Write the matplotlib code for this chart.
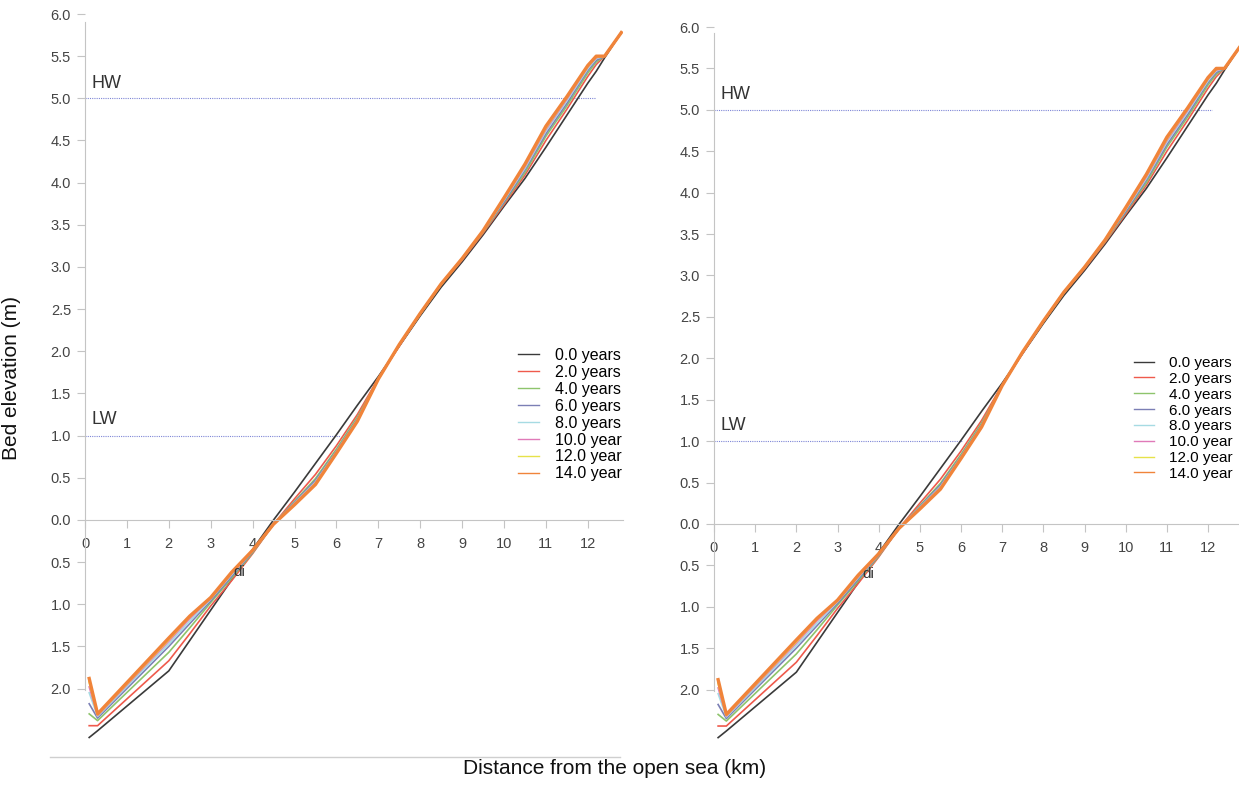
import matplotlib
matplotlib.use("Agg")
import matplotlib.pyplot as plt
from matplotlib.lines import Line2D

plt.rcParams['font.family'] = ['Liberation Sans', 'DejaVu Sans']

# ---------------- data ----------------
distance_km = [0.1, 0.3, 2.0, 2.5, 3.0, 3.5, 4.0, 4.5, 5.0, 5.5, 6.0, 6.5, 7.0,
               7.5, 8.0, 8.5, 9.0, 9.5, 10.0, 10.5, 11.0, 11.5, 12.0, 12.2, 12.4, 12.8]

labels = ["0.0 years", "2.0 years", "4.0 years", "6.0 years", "8.0 years",
          "10.0 year", "12.0 year", "14.0 year"]

bed_0 = [-2.58, -2.50, -1.79, -1.43, -1.07, -0.71, -0.35, 0.00, 0.33, 0.67, 1.01, 1.36, 1.70,
         2.06, 2.42, 2.76, 3.06, 3.38, 3.72, 4.05, 4.42, 4.80, 5.18, 5.32, 5.48, 5.78]
bed_2 = [-2.44, -2.44, -1.67, -1.35, -1.02, -0.72, -0.40, -0.05, 0.25, 0.54, 0.88, 1.25, 1.68,
         2.06, 2.44, 2.79, 3.08, 3.40, 3.74, 4.09, 4.50, 4.87, 5.26, 5.40, 5.50, 5.78]
bed_4 = [-2.30, -2.38, -1.57, -1.28, -0.98, -0.69, -0.39, -0.05, 0.22, 0.49, 0.84, 1.22, 1.67,
         2.07, 2.44, 2.79, 3.09, 3.41, 3.76, 4.12, 4.55, 4.91, 5.30, 5.43, 5.50, 5.78]
bed_6 = [-2.18, -2.35, -1.50, -1.23, -0.96, -0.67, -0.38, -0.05, 0.21, 0.47, 0.82, 1.20, 1.67,
         2.07, 2.45, 2.80, 3.09, 3.42, 3.77, 4.15, 4.58, 4.94, 5.33, 5.45, 5.50, 5.78]
bed_8 = [-2.05, -2.33, -1.47, -1.20, -0.94, -0.65, -0.37, -0.05, 0.20, 0.45, 0.81, 1.19, 1.67,
         2.08, 2.45, 2.80, 3.10, 3.42, 3.79, 4.17, 4.61, 4.97, 5.35, 5.47, 5.50, 5.78]
bed_10 = [-1.98, -2.32, -1.44, -1.17, -0.93, -0.64, -0.37, -0.05, 0.19, 0.44, 0.80, 1.18, 1.67,
          2.08, 2.45, 2.80, 3.10, 3.43, 3.80, 4.19, 4.63, 4.99, 5.37, 5.48, 5.50, 5.78]
bed_12 = [-1.92, -2.31, -1.42, -1.15, -0.92, -0.63, -0.36, -0.05, 0.18, 0.43, 0.79, 1.17, 1.67,
          2.08, 2.45, 2.80, 3.10, 3.43, 3.81, 4.21, 4.65, 5.01, 5.38, 5.49, 5.50, 5.78]
bed_14 = [-1.88, -2.30, -1.40, -1.14, -0.92, -0.62, -0.36, -0.05, 0.18, 0.42, 0.79, 1.17, 1.67,
          2.08, 2.45, 2.80, 3.10, 3.43, 3.82, 4.22, 4.67, 5.02, 5.39, 5.50, 5.50, 5.78]

series = [bed_0, bed_2, bed_4, bed_6, bed_8, bed_10, bed_12, bed_14]
colors = ["#3a3a3a", "#ef5a4c", "#8ec46c", "#7b7fb5", "#a6dbe3", "#e07ab8", "#e6e24a", "#f0843a"]
widths = [1.2, 1.2, 1.2, 1.2, 1.2, 1.2, 1.4, 2.4]

yticks = [-2.0, -1.5, -1.0, -0.5, 0.0, 0.5, 1.0, 1.5, 2.0, 2.5, 3.0, 3.5, 4.0, 4.5, 5.0, 5.5, 6.0]
ytick_labels = ["2.0", "1.5", "1.0", "0.5", "0.0", "0.5", "1.0", "1.5", "2.0", "2.5",
                "3.0", "3.5", "4.0", "4.5", "5.0", "5.5", "6.0"]
xticks = list(range(0, 13))
HW, LW = 5.0, 1.0

W, H = 1239, 787
fig = plt.figure(figsize=(W / 100, H / 100), dpi=100)

def px_axes(x0, x1, ytop, ybot):
    return [x0 / W, 1 - ybot / H, (x1 - x0) / W, (ybot - ytop) / H]

panels = [
    dict(rect=px_axes(85, 85 + 12.85 * 41.9, 14 - 0.05 * 84.3, 520 + 2.7 * 84.3),
         spine_top=5.9, hw_end=12.17, lw_end=6.08, hw_y=5.12, lw_y=1.14,
         leg=(518 / W, 1 - 348 / H), legsize=11.5, di=(3.55, -0.62)),
    dict(rect=px_axes(714, 714 + 12.85 * 41.17, 27 - 0.05 * 82.8, 524 + 2.7 * 82.8),
         spine_top=5.93, hw_end=12.1, lw_end=6.02, hw_y=5.13, lw_y=1.135,
         leg=(1134 / W, 1 - 356 / H), legsize=11, di=(3.6, -0.6)),
]

axis_gray = "#c4c4c4"
text_gray = "#444444"

for p in panels:
    ax = fig.add_axes(p["rect"])
    ax.set_xlim(0, 12.85)
    ax.set_ylim(-2.7, 6.05)
    ax.patch.set_alpha(0)
    for s in ["top", "right"]:
        ax.spines[s].set_visible(False)
    ax.spines["bottom"].set_position(("data", 0))
    ax.spines["bottom"].set_color(axis_gray)
    ax.spines["left"].set_color(axis_gray)
    ax.spines["left"].set_bounds(-2.02, p["spine_top"])

    ax.set_yticks(yticks)
    ax.set_yticklabels(ytick_labels)
    ax.set_xticks(xticks)
    ax.tick_params(axis="both", colors=axis_gray, labelcolor=text_gray,
                   labelsize=10.5, length=6, width=0.8)
    ax.tick_params(axis="x", pad=6)
    ax.tick_params(axis="y", pad=4)

    ax.plot([0, p["hw_end"]], [HW, HW], linestyle=(0, (1, 1)), color="#7f86d6", lw=0.8)
    ax.plot([0, p["lw_end"]], [LW, LW], linestyle=(0, (1, 1)), color="#7f86d6", lw=0.8)
    ax.text(0.16, p["hw_y"], "HW", fontsize=13, color="#333333", va="baseline")
    ax.text(0.16, p["lw_y"], "LW", fontsize=13, color="#333333", va="baseline")

    handles = []
    for ys, c, w, lab in zip(series, colors, widths, labels):
        ax.plot(distance_km, ys, color=c, lw=w, solid_joinstyle="round")
        handles.append(Line2D([], [], color=c, lw=1.0, label=lab))

    ax.text(p["di"][0], p["di"][1], "di", fontsize=11, color="#333333", va="center")

    fig.legend(handles=handles, loc="upper left", bbox_to_anchor=p["leg"],
               bbox_transform=fig.transFigure, frameon=False, fontsize=p["legsize"],
               handlelength=1.3, handletextpad=1.0, labelspacing=0.12,
               borderpad=0, borderaxespad=0)

fig.text(12 / W, 1 - 378 / H, "Bed elevation (m)", rotation=90, ha="center",
         va="center", fontsize=15, color="#111111")
fig.text(615 / W, 1 - 768 / H, "Distance from the open sea (km)", ha="center",
         va="center", fontsize=15, color="#111111")
fig.add_artist(Line2D([50 / W, 620 / W], [1 - 757 / H, 1 - 757 / H],
                      color="#cfcfcf", lw=1.0, transform=fig.transFigure))

fig.savefig("out.png", dpi=100)
